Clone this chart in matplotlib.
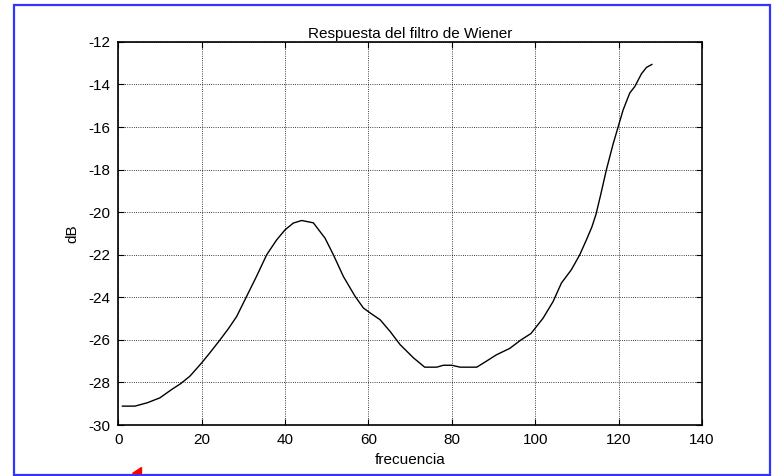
import matplotlib.pyplot as plt
from matplotlib.patches import Rectangle, Polygon

plt.rcParams['font.family'] = ['Liberation Sans', 'DejaVu Sans']
plt.rcParams['axes.unicode_minus'] = False

# respuesta del filtro (frecuencia, dB)
frecuencia = [1, 4, 7, 10, 12.8, 15, 17.2, 20, 22, 24.4, 26.5, 28.4, 30.8, 33.2, 35.6,
              38, 40, 42, 44, 46.8, 49.6, 51.6, 54, 56.8, 58.8, 60.4, 62.8, 65.2,
              67.6, 70.8, 73.5, 76.4, 78, 80, 82, 86, 88.3, 90.7, 93.9, 96.6, 99,
              101.9, 104.3, 106.3, 108.7, 110.7, 112.3, 113.6, 114.6, 115.7, 117.1,
              118.7, 119.9, 121.1, 122.7, 123.9, 125.5, 126.7, 128]
dB = [-29.11, -29.11, -28.95, -28.72, -28.33, -28.05, -27.7, -27.08, -26.6, -26.0,
      -25.45, -24.9, -23.95, -23.0, -22.0, -21.3, -20.83, -20.51, -20.39, -20.5,
      -21.22, -22.0, -23.02, -23.95, -24.5, -24.73, -25.05, -25.6, -26.22, -26.84,
      -27.28, -27.28, -27.19, -27.19, -27.28, -27.28, -27.0, -26.7, -26.4, -26.0,
      -25.7, -24.98, -24.2, -23.33, -22.7, -22.0, -21.3, -20.7, -20.1, -19.2,
      -18.0, -16.8, -16.0, -15.2, -14.4, -14.1, -13.5, -13.2, -13.06]

xticks = [0, 20, 40, 60, 80, 100, 120, 140]
yticks = [-30, -28, -26, -24, -22, -20, -18, -16, -14, -12]

fig = plt.figure(figsize=(7.73, 4.76), dpi=100)
ax = fig.add_axes([0.153, 0.107, 0.755, 0.805])

ax.plot(frecuencia, dB, color='black', linewidth=1.0)

ax.set_xlim(0, 140)
ax.set_ylim(-30, -12)
ax.set_xticks(xticks)
ax.set_yticks(yticks)
ax.grid(True, linestyle=':', color='black', linewidth=0.6)
ax.tick_params(direction='in', top=True, right=True, length=4, labelsize=11, pad=6)
for s in ax.spines.values():
    s.set_linewidth(1.2)

ax.set_title('Respuesta del filtro de Wiener', fontsize=11, pad=3)
ax.set_xlabel('frecuencia', fontsize=11, labelpad=4)
ax.set_ylabel('dB', fontsize=11, labelpad=6)

# marco azul y flecha roja
fig.patches.append(Rectangle((14 / 773, 1 / 476), 756 / 773, 470 / 476,
                             transform=fig.transFigure, fill=False,
                             edgecolor='#3333ff', linewidth=1.6))
fig.patches.append(Polygon([(132 / 773, 3 / 476), (141 / 773, 3 / 476),
                            (141 / 773, 9 / 476)],
                           transform=fig.transFigure, color='red'))

fig.savefig('out.png', dpi=100)
